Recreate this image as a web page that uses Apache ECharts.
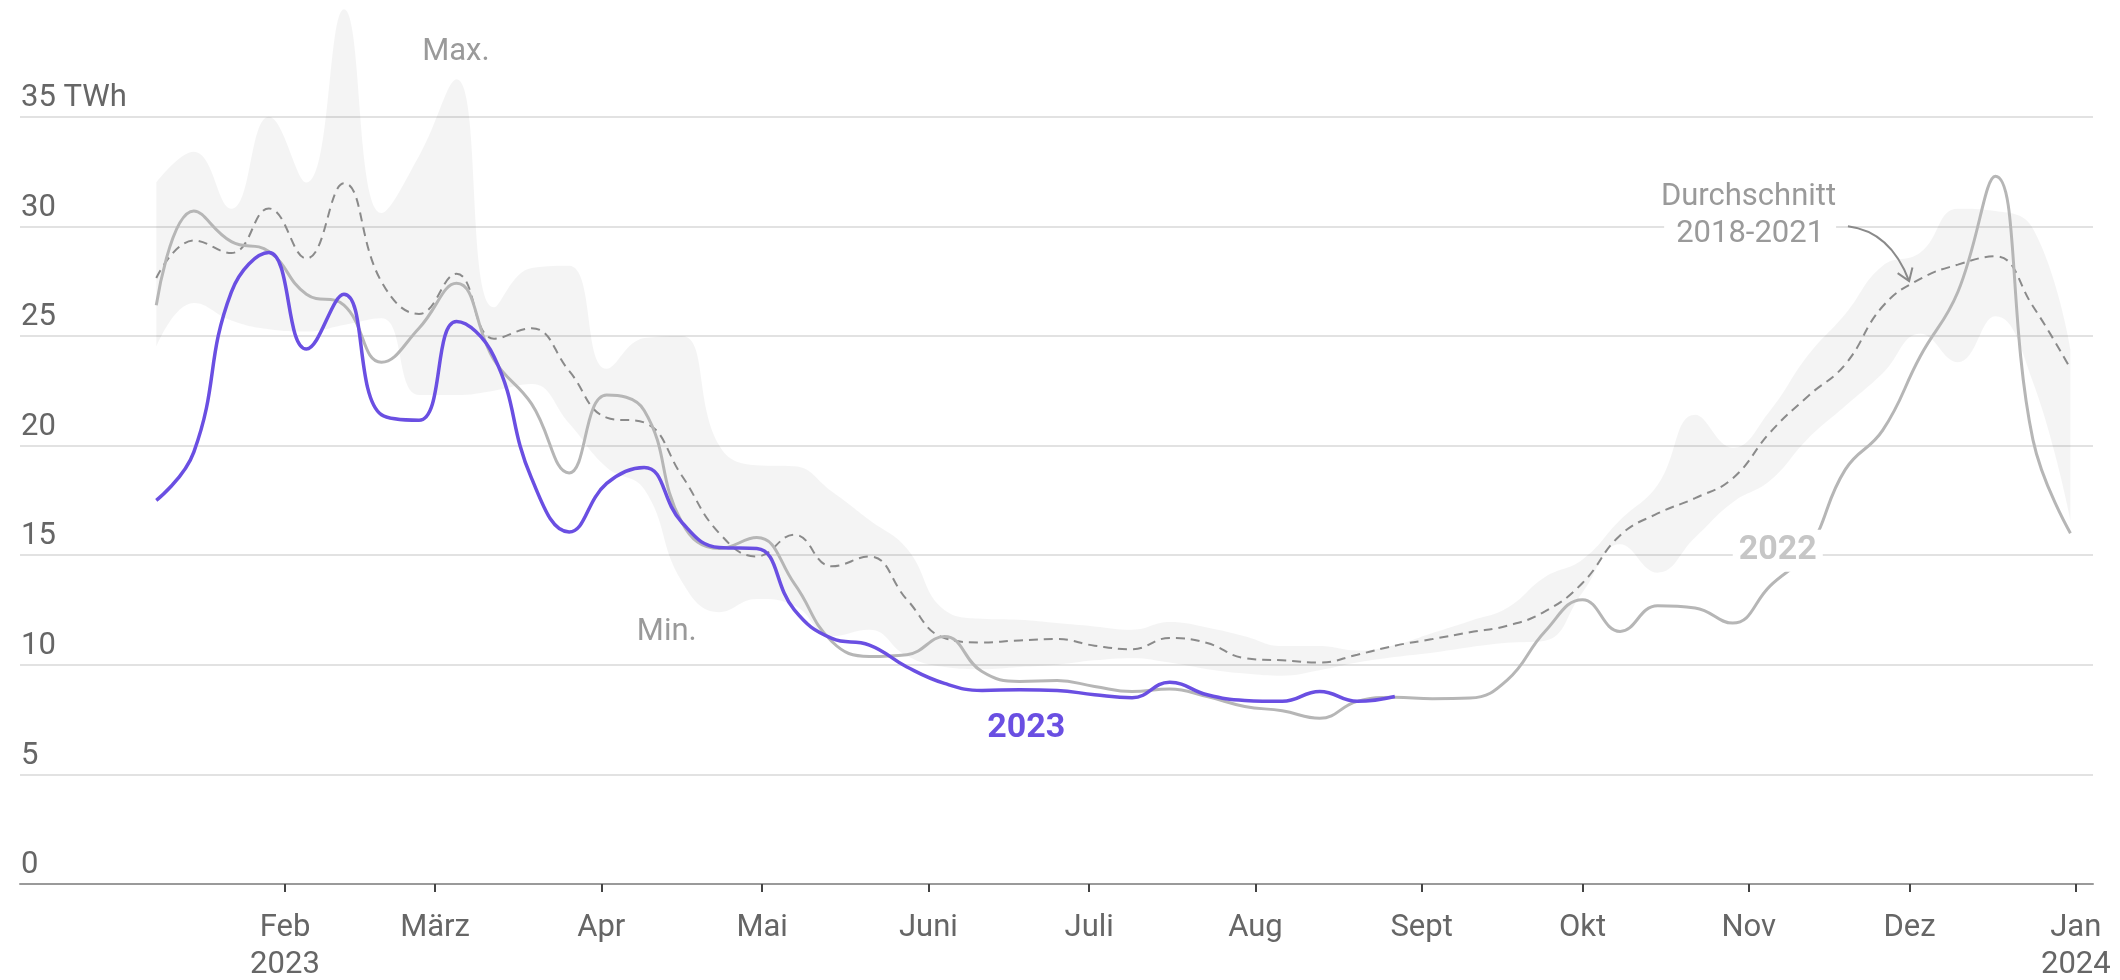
<!DOCTYPE html>
<html>
<head>
<meta charset="utf-8">
<script src="https://cdn.jsdelivr.net/npm/echarts@6.0.0/dist/echarts.min.js"></script>
<style>
  html, body { margin: 0; padding: 0; background: #fff; }
  #chart { width: 2120px; height: 980px; }
</style>
</head>
<body>
<div id="chart"></div>
<script>
// weekly values, TWh
const weeks = [
  '2023-01-08', '2023-01-15', '2023-01-22', '2023-01-29',
  '2023-02-05', '2023-02-12', '2023-02-19', '2023-02-26',
  '2023-03-05', '2023-03-12', '2023-03-19', '2023-03-26',
  '2023-04-02', '2023-04-09', '2023-04-16', '2023-04-23', '2023-04-30',
  '2023-05-07', '2023-05-14', '2023-05-21', '2023-05-28',
  '2023-06-04', '2023-06-11', '2023-06-18', '2023-06-25',
  '2023-07-02', '2023-07-09', '2023-07-16', '2023-07-23', '2023-07-30',
  '2023-08-06', '2023-08-13', '2023-08-20', '2023-08-27',
  '2023-09-03', '2023-09-10', '2023-09-17', '2023-09-24',
  '2023-10-01', '2023-10-08', '2023-10-15', '2023-10-22', '2023-10-29',
  '2023-11-05', '2023-11-12', '2023-11-19', '2023-11-26',
  '2023-12-03', '2023-12-10', '2023-12-17', '2023-12-24', '2023-12-31'
];

const val2023 = [
  17.5, 19.7, 27.0, 28.8, 24.4, 26.9, 21.4, 21.15, 25.65, 24.05, 18.5, 16.06,
  18.27, 19.0, 16.5, 15.35, 15.3, 12.5, 11.2, 10.9, 9.9, 9.15, 8.83, 8.86,
  8.83, 8.63, 8.5, 9.2, 8.63, 8.37, 8.33, 8.78, 8.33, 8.55
];

const val2022 = [
  26.4, 30.7, 29.3, 28.85, 26.9, 26.4, 23.8, 25.35, 27.4, 23.9, 21.9, 18.75,
  22.3, 21.6, 16.5, 15.3, 15.8, 13.7, 11.06, 10.38, 10.46, 11.29, 9.69, 9.24,
  9.28, 9.01, 8.78, 8.89, 8.55, 8.1, 7.9, 7.56, 8.33, 8.52, 8.45, 8.48,
  9.31, 11.52, 12.97, 11.52, 12.69, 12.59, 11.9, 13.6, 15.2, 18.9, 20.7, 24.07,
  27.0, 32.28, 20.27, 16.0
];

const avg1821 = [
  27.64, 29.35, 28.78, 30.81, 28.53, 31.96, 27.47, 26.0, 27.83, 24.87, 25.35, 23.4,
  21.27, 21.05, 18.63, 16.0, 14.94, 15.93, 14.49, 14.94, 12.97, 11.22, 11.02, 11.11,
  11.17, 10.87, 10.71, 11.22, 10.99, 10.3, 10.2, 10.1, 10.46, 10.87, 11.17, 11.48,
  11.78, 12.43, 13.73, 15.9, 16.9, 17.6, 18.5, 20.6, 22.24, 23.7, 26.35, 27.6,
  28.25, 28.63, 26.35, 23.5
];

const max1821 = [
  32.0, 33.4, 30.8, 35.0, 32.0, 39.9, 30.6, 33.2, 36.7, 26.3, 28.1, 28.2,
  23.5, 24.9, 25.0, 20.0, 19.1, 19.05, 17.9, 16.6, 15.3, 12.5, 12.1, 12.05,
  11.9, 11.75, 11.6, 11.95, 11.7, 11.3, 10.85, 10.85, 10.65, 10.9, 11.45, 12.0,
  12.6, 14.0, 14.8, 16.6, 18.2, 21.4, 19.9, 21.6, 24.1, 26.0, 28.2, 28.8,
  30.8, 30.7, 29.9, 24.4
];

const min1821 = [
  24.5, 26.5, 25.7, 25.3, 25.2, 25.5, 25.8, 22.3, 22.3, 22.5, 22.8, 21.0,
  19.0, 18.0, 13.8, 12.4, 13.0, 12.7, 11.3, 11.6, 10.4, 9.9, 9.8, 9.9,
  10.0, 10.2, 10.3, 10.1, 9.8, 9.6, 9.5, 9.75, 10.1, 10.35, 10.55, 10.8,
  11.0, 11.1, 13.3, 15.5, 14.2, 15.8, 17.4, 18.4, 20.3, 21.8, 23.3, 25.1,
  23.8, 25.9, 22.9, 16.6
];

const monthTicks = [
  '2023-02-01', '2023-03-01', '2023-04-01', '2023-05-01', '2023-06-01', '2023-07-01',
  '2023-08-01', '2023-09-01', '2023-10-01', '2023-11-01', '2023-12-01', '2024-01-01'
];
const monthLabels = [
  'Feb\n2023', 'März', 'Apr', 'Mai', 'Juni', 'Juli',
  'Aug', 'Sept', 'Okt', 'Nov', 'Dez', 'Jan\n2024'
];

const toTs = s => Date.parse(s.length === 10 ? s + 'T00:00:00Z' : s + ':00Z');
const monthTs = monthTicks.map(toTs);

const FONT = 'Roboto';
const PURPLE = '#6a4fe2';
const X_MIN = toTs('2022-12-13T14:00');
const X_MAX = toTs('2024-01-04T05:00');

const chart = echarts.init(document.getElementById('chart'), null, { renderer: 'canvas' });

const option = {
  animation: false,
  backgroundColor: '#fff',
  grid: { left: 20, right: 27, top: 7, bottom: 96, containLabel: false, outerBoundsMode: 'none' },
  xAxis: [
    {
      // time axis carries the series (so stacking happens on y)
      type: 'time',
      min: X_MIN,
      max: X_MAX,
      show: false
    },
    {
      // same range, only used to draw the axis line, month ticks and labels
      type: 'value',
      position: 'bottom',
      min: X_MIN,
      max: X_MAX,
      axisLine: { show: true, onZero: false, lineStyle: { color: '#9a9a9a', width: 2 } },
      axisTick: {
        show: true,
        customValues: monthTs,
        length: 8,
        lineStyle: { color: '#444', width: 2 }
      },
      axisLabel: {
        customValues: monthTs,
        formatter: (v) => {
          const i = monthTs.findIndex(t => Math.abs(t - v) < 43200000);
          return i >= 0 ? monthLabels[i] : '';
        },
        color: '#666',
        fontFamily: FONT,
        fontSize: 31,
        lineHeight: 37,
        margin: 26
      },
      splitLine: { show: false }
    }
  ],
  yAxis: {
    type: 'value',
    min: 0,
    max: 40,
    interval: 5,
    axisLine: { show: false },
    axisTick: { show: false },
    axisLabel: {
      inside: true,
      margin: 1,
      showMaxLabel: false,
      verticalAlign: 'bottom',
      padding: [0, 0, 3, 0],
      color: '#666',
      fontFamily: FONT,
      fontSize: 31,
      formatter: (v) => (v === 35 ? '35 TWh' : (v === 40 ? '' : String(v)))
    },
    splitLine: {
      show: true,
      lineStyle: {
        color: ['#d9d9d9', '#d9d9d9', '#d9d9d9', '#d9d9d9', '#d9d9d9',
                '#d9d9d9', '#d9d9d9', '#d9d9d9', 'rgba(0,0,0,0)'],
        width: 1.5
      }
    }
  },
  series: [
    {
      name: 'min',
      type: 'line',
      xAxisIndex: 0,
      stack: 'band',
      smooth: 0.45,
      symbol: 'none',
      lineStyle: { opacity: 0 },
      data: min1821.map((v, i) => [toTs(weeks[i]), v]),
      z: 1
    },
    {
      name: 'range',
      type: 'line',
      xAxisIndex: 0,
      stack: 'band',
      smooth: 0.45,
      symbol: 'none',
      lineStyle: { opacity: 0 },
      areaStyle: { color: 'rgba(0,0,0,0.063)' },
      data: max1821.map((v, i) => [toTs(weeks[i]), +(v - min1821[i]).toFixed(2)]),
      z: 1
    },
    {
      name: 'Durchschnitt 2018-2021',
      type: 'line',
      xAxisIndex: 0,
      smooth: 0.45,
      symbol: 'none',
      lineStyle: { color: '#8a8a8a', width: 2, type: [9, 6] },
      data: avg1821.map((v, i) => [toTs(weeks[i]), v]),
      z: 2
    },
    {
      name: '2022',
      type: 'line',
      xAxisIndex: 0,
      smooth: 0.45,
      symbol: 'none',
      lineStyle: { color: '#b6b6b6', width: 3 },
      data: val2022.map((v, i) => [toTs(weeks[i]), v]),
      z: 3
    },
    {
      name: '2023',
      type: 'line',
      xAxisIndex: 0,
      smooth: 0.45,
      symbol: 'none',
      lineStyle: { color: PURPLE, width: 3.5 },
      data: val2023.map((v, i) => [toTs(weeks[i]), v]),
      z: 4
    }
  ]
};

chart.setOption(option);

// annotations, anchored in data space
const P = (d, v) => chart.convertToPixel({ seriesIndex: 2 }, [toTs(d), v]);

const label = (pos, text, style) => ({
  type: 'text',
  x: pos[0],
  y: pos[1],
  z: 100,
  style: Object.assign({
    text: text,
    font: '31px ' + FONT,
    fill: '#9a9a9a',
    align: 'center',
    verticalAlign: 'middle'
  }, style)
});

const arrowStart = P('2023-11-19T12:00', 30.0);
const arrowCtrl = P('2023-11-27T10:00', 29.76);
const arrowTip = P('2023-11-30T22:00', 27.5);
const dx = arrowTip[0] - arrowCtrl[0];
const dy = arrowTip[1] - arrowCtrl[1];
const ang = Math.atan2(-dy, -dx);
const headLen = 14, spread = 0.6;
const arm1 = [arrowTip[0] + headLen * Math.cos(ang - spread), arrowTip[1] + headLen * Math.sin(ang - spread)];
const arm2 = [arrowTip[0] + headLen * Math.cos(ang + spread), arrowTip[1] + headLen * Math.sin(ang + spread)];

chart.setOption({
  graphic: [
    label(P('2023-03-04T21:00', 37.95), 'Max.'),
    label(P('2023-04-13T05:00', 11.5), 'Min.'),
    label(P('2023-06-19T06:00', 7.08), '2023', { font: 'bold 34px ' + FONT, fill: PURPLE }),
    label(P('2023-11-06T10:00', 15.2), '2022', {
      font: 'bold 34px ' + FONT, fill: '#c6c6c6', backgroundColor: '#fff', padding: [4, 6]
    }),
    label(P('2023-11-17T07:00', 31.3), 'Durchschnitt', { align: 'right' }),
    label(P('2023-11-17T07:00', 29.65), '2018-2021', {
      align: 'right', backgroundColor: '#fff', padding: [2, 12, 2, 12]
    }),
    {
      type: 'bezierCurve',
      z: 100,
      shape: {
        x1: arrowStart[0], y1: arrowStart[1],
        x2: arrowTip[0], y2: arrowTip[1],
        cpx1: arrowCtrl[0], cpy1: arrowCtrl[1]
      },
      style: { stroke: '#8a8a8a', lineWidth: 2, fill: null }
    },
    {
      type: 'polyline',
      z: 100,
      shape: { points: [arm1, arrowTip, arm2] },
      style: { stroke: '#8a8a8a', lineWidth: 2, fill: null }
    }
  ]
});
</script>
</body>
</html>
